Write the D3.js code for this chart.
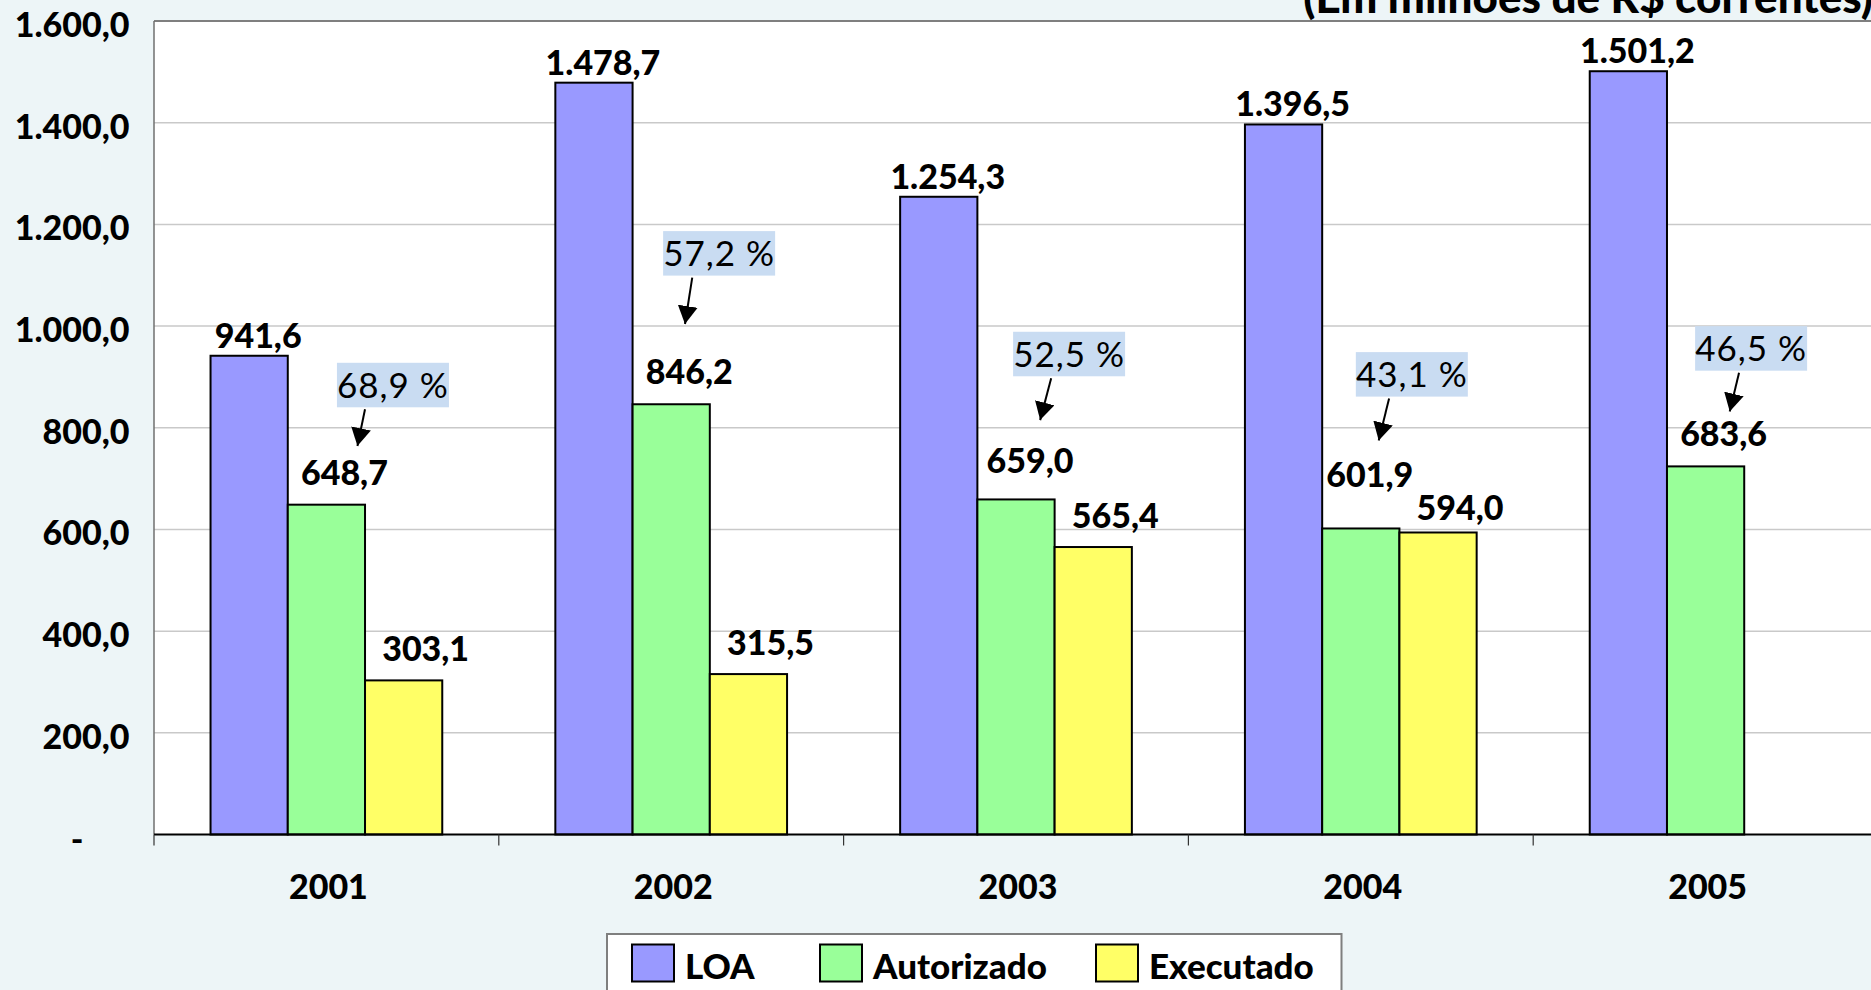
<!DOCTYPE html>
<html>
<head>
<meta charset="utf-8">
<script src="https://cdn.jsdelivr.net/npm/d3@7"></script>
<style>
  html, body { margin: 0; padding: 0; background: #edf5f7; }
  svg { display: block; }
</style>
</head>
<body>
<div id="chart"></div>
<script>
// LOA x Autorizado x Executado, 2001-2005 (R$ milhões correntes)

// ---- data ----
const years = ["2001", "2002", "2003", "2004", "2005"];
const series = ["LOA", "Autorizado", "Executado"];
const loa = [941.6, 1478.7, 1254.3, 1396.5, 1501.2];
// the 2005 bar sits at ~724 in the source picture while its label reads 683,6
const autorizado = [648.7, 846.2, 659.0, 601.9, 724.0];
const autorizadoLabel = [648.7, 846.2, 659.0, 601.9, 683.6];
const executado = [303.1, 315.5, 565.4, 594.0, null];
const pctText = ["68,9 %", "57,2 %", "52,5 %", "43,1 %", "46,5 %"];
const yTicks = [0, 200, 400, 600, 800, 1000, 1200, 1400, 1600];

// percent call-outs: x as a fraction of the year band, y in R$ millions
const pctBoxX = [0.693, 0.639, 0.654, 0.648, 0.632];
const pctBoxY = [884, 1143, 945, 905, 956];
const pctArrX = [0.612, 0.561, 0.602, 0.582, 0.597];
const pctTipX = [0.590, 0.540, 0.570, 0.552, 0.570];
const pctTipY = [764, 1004, 815, 775, 832];

const W = 1871, H = 990;
const plotLeft = 154, plotTop = 21, plotBottom = 834.5, band = 344.8;
const heavy = 900;

const colors = { LOA: "#9999ff", Autorizado: "#99ff99", Executado: "#ffff66" };
const labelDx = { LOA: 9, Autorizado: 18, Executado: 22 };
const labelGap = { LOA: 8, Autorizado: 20, Executado: 19 };
// hand-moved labels in the original
const nudge = { "Autorizado 2004": [-9, -21], "Executado 2004": [0, 7], "Autorizado 2003": [-4, -6] };

const br = d3.formatLocale({ decimal: ",", thousands: ".", grouping: [3], currency: ["R$", ""] });
const fmt = br.format(",.1f");

const rows = years.map((yr, i) => ({
  year: yr,
  bars: [
    { key: "LOA", v: loa[i], label: loa[i] },
    { key: "Autorizado", v: autorizado[i], label: autorizadoLabel[i] },
    { key: "Executado", v: executado[i], label: executado[i] }
  ].filter(b => b.v != null)
}));

const svg = d3.select("#chart").append("svg")
  .attr("width", W).attr("height", H)
  .style("font-family", "Lato, 'Open Sans', sans-serif");

svg.append("rect").attr("width", W).attr("height", H).attr("fill", "#edf5f7");

const x0 = d3.scaleBand().domain(years).range([plotLeft, plotLeft + band * years.length]);
const x1 = d3.scaleBand().domain(series).range([0, x0.bandwidth()]).paddingOuter(0.732);
const y = d3.scaleLinear().domain([0, 1600]).range([plotBottom, plotTop]);

// plot area
svg.append("rect")
  .attr("x", plotLeft).attr("y", plotTop)
  .attr("width", W - plotLeft + 20).attr("height", plotBottom - plotTop)
  .attr("fill", "#ffffff");

svg.append("g")
  .selectAll("line")
  .data(yTicks.filter(t => t > 0 && t < 1600))
  .join("line")
  .attr("x1", plotLeft).attr("x2", W)
  .attr("y1", d => y(d)).attr("y2", d => y(d))
  .attr("stroke", "#c9c9c9").attr("stroke-width", 1.5);

svg.append("line")
  .attr("x1", plotLeft).attr("x2", W).attr("y1", plotTop).attr("y2", plotTop)
  .attr("stroke", "#7f7f7f").attr("stroke-width", 2);
svg.append("line")
  .attr("x1", plotLeft).attr("x2", plotLeft).attr("y1", plotTop).attr("y2", plotBottom)
  .attr("stroke", "#6f6f6f").attr("stroke-width", 1.5);

// title (cut by the top edge as in the source)
svg.append("text")
  .attr("x", W + 2).attr("y", 13)
  .attr("text-anchor", "end")
  .attr("font-size", 44).attr("font-weight", heavy)
  .text("(Em milhões de R$ correntes)");

// bars
const groups = svg.append("g")
  .selectAll("g")
  .data(rows)
  .join("g")
  .attr("transform", d => `translate(${x0(d.year)},0)`);

groups.selectAll("rect")
  .data(d => d.bars)
  .join("rect")
  .attr("x", d => x1(d.key))
  .attr("y", d => y(d.v))
  .attr("width", x1.bandwidth())
  .attr("height", d => y(0) - y(d.v))
  .attr("fill", d => colors[d.key])
  .attr("stroke", "#000").attr("stroke-width", 2);

// value labels
groups.selectAll("text.val")
  .data(d => d.bars.map(b => Object.assign({ year: d.year }, b)))
  .join("text")
  .attr("class", "val")
  .attr("x", d => x1(d.key) + x1.bandwidth() / 2 + labelDx[d.key] + (nudge[d.key + " " + d.year] || [0, 0])[0])
  .attr("y", d => y(d.v) - labelGap[d.key] + (nudge[d.key + " " + d.year] || [0, 0])[1])
  .attr("text-anchor", "middle")
  .attr("font-size", 34).attr("font-weight", heavy)
  .text(d => fmt(d.label));

// x axis
svg.append("line")
  .attr("x1", plotLeft).attr("x2", W).attr("y1", plotBottom).attr("y2", plotBottom)
  .attr("stroke", "#000").attr("stroke-width", 2);

svg.append("g")
  .selectAll("line")
  .data(years)
  .join("line")
  .attr("x1", d => x0(d)).attr("x2", d => x0(d))
  .attr("y1", plotBottom).attr("y2", plotBottom + 11)
  .attr("stroke", "#333").attr("stroke-width", 1.2);

const xAxis = svg.append("g")
  .attr("transform", `translate(0,${plotBottom})`)
  .call(d3.axisBottom(x0).tickSize(0).tickPadding(0));
xAxis.select(".domain").remove();
xAxis.selectAll("text")
  .attr("dy", null).attr("y", 64).attr("dx", 2)
  .attr("font-family", "Lato, sans-serif")
  .attr("font-size", 34).attr("font-weight", heavy).attr("fill", "#000");

// y axis
const yAxis = svg.append("g")
  .attr("transform", "translate(129.5,0)")
  .call(d3.axisLeft(y).tickValues(yTicks).tickSize(0).tickPadding(0)
    .tickFormat(d => d === 0 ? "-" : fmt(d)));
yAxis.select(".domain").remove();
yAxis.selectAll("text")
  .attr("dy", null).attr("y", 15.5)
  .attr("x", d => d === 0 ? -46 : 0)
  .attr("font-family", "Lato, sans-serif")
  .attr("font-size", 34).attr("font-weight", heavy).attr("fill", "#000");

// percent call-outs
svg.append("defs").append("marker")
  .attr("id", "head")
  .attr("viewBox", "0 -10 18 20")
  .attr("markerUnits", "userSpaceOnUse")
  .attr("markerWidth", 18).attr("markerHeight", 20)
  .attr("refX", 18).attr("refY", 0)
  .attr("orient", "auto")
  .append("path").attr("d", "M0,-10L18,0L0,10Z").attr("fill", "#000");

const boxW = 112, boxH = 44.5;
const callouts = svg.append("g")
  .selectAll("g")
  .data(years)
  .join("g");

callouts.append("rect")
  .attr("x", (d, i) => x0(d) + pctBoxX[i] * band - boxW / 2)
  .attr("y", (d, i) => y(pctBoxY[i]) - boxH / 2)
  .attr("width", boxW).attr("height", boxH)
  .attr("fill", "#c9dcf2");

callouts.append("text")
  .attr("x", (d, i) => x0(d) + pctBoxX[i] * band)
  .attr("y", (d, i) => y(pctBoxY[i]) + 12.5)
  .attr("text-anchor", "middle")
  .attr("font-size", 35).attr("letter-spacing", 1)
  .text((d, i) => pctText[i]);

callouts.append("line")
  .attr("x1", (d, i) => x0(d) + pctArrX[i] * band)
  .attr("y1", (d, i) => y(pctBoxY[i]) + boxH / 2 + 2)
  .attr("x2", (d, i) => x0(d) + pctTipX[i] * band)
  .attr("y2", (d, i) => y(pctTipY[i]))
  .attr("stroke", "#000").attr("stroke-width", 2)
  .attr("marker-end", "url(#head)");

// legend
const legX = [632, 820, 1096];
const legend = svg.append("g");
legend.append("rect")
  .attr("x", 607).attr("y", 934)
  .attr("width", 734.5).attr("height", 80)
  .attr("fill", "#fff").attr("stroke", "#7f7f7f").attr("stroke-width", 2);

const item = legend.selectAll("g")
  .data(series)
  .join("g")
  .attr("transform", (d, i) => `translate(${legX[i]},944.5)`);
item.append("rect")
  .attr("width", 42).attr("height", 37)
  .attr("fill", d => colors[d])
  .attr("stroke", "#000").attr("stroke-width", 2);
item.append("text")
  .attr("x", 53).attr("y", 34)
  .attr("font-size", 35).attr("font-weight", heavy)
  .text(d => d);
</script>
</body>
</html>
